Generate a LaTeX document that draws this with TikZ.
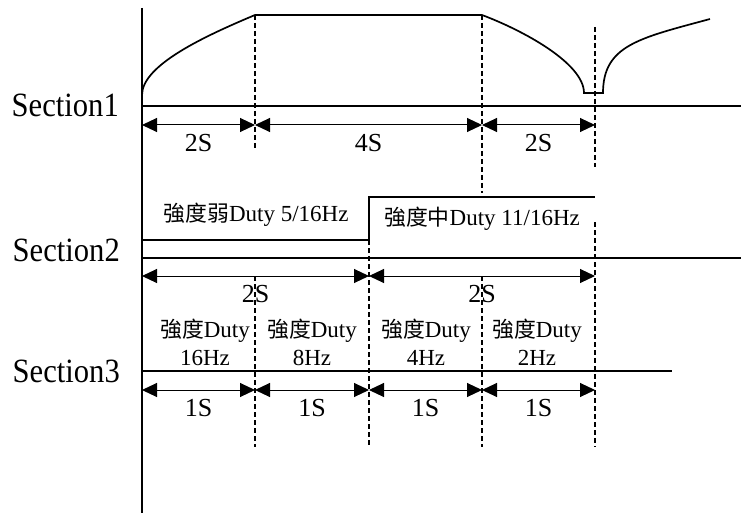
\documentclass[tikz,border=0pt]{standalone}
\usepackage{fontspec}
\setmainfont{Liberation Serif}
\newfontfamily\tallserif[FakeStretch=0.9]{Liberation Serif}
\newfontfamily\cjk[Scale=0.95]{Noto Sans CJK TC}
\newcommand{\zh}[1]{{\cjk #1}}
\usetikzlibrary{arrows.meta}

\begin{document}
\begin{tikzpicture}[x=1pt, y=-1pt,
    >={Triangle[length=15pt,width=14pt]},
    thick line/.style={line width=1.7pt},
    guide/.style={line width=1.2pt, dash pattern=on 5pt off 3pt},
    span/.style={line width=1pt, <->},
    section/.style={font=\tallserif\fontsize{34}{34}\selectfont, anchor=base east, inner sep=0pt},
    dur/.style={font=\fontsize{26}{26}\selectfont, midway, below=5pt},
    duty/.style={font=\fontsize{23}{28}\selectfont, align=center, inner sep=0pt}]

    \useasboundingbox (0,0) rectangle (741,513);

    % axis and base lines
    \draw[thick line] (142,8) -- (142,513);
    \draw[thick line] (142,106) -- (741,106);
    \draw[thick line] (142,258) -- (741,258);
    \draw[thick line] (142,371) -- (672,371);

    \node[section] (sec1) at (119,117) {Section1};
    \node[section] (sec2) at (120,261) {Section2};
    \node[section] (sec3) at (120,382) {Section3};

    % section 1
    \draw[thick line] (142,95) .. controls (142,65) and (205,36) .. (255,15)
      -- (482,15) .. controls (522,30) and (584,63) .. (584,93)
      -- (603,93) .. controls (603,45) and (640,38) .. (710,19);

    \draw[guide] (255,15) -- (255,148);
    \draw[guide] (482,15) -- (482,193);
    \draw[guide] (595,27) -- (595,167);

    \coordinate (a0) at (142,125);
    \coordinate (a1) at (255,125);
    \coordinate (a2) at (482,125);
    \coordinate (a3) at (595,125);
    \draw[span] (a0) -- (a1) node[dur] (a01) {2S};
    \draw[span] (a1) -- (a2) node[dur] (a12) {4S};
    \draw[span] (a2) -- (a3) node[dur] (a23) {2S};

    % section 2
    \draw[thick line] (142,240) -- (369,240) -- (369,197) -- (595,197);
    \node[duty] (weak)   at (256,215) {\zh{強度弱}Duty 5/16Hz};
    \node[duty] (medium) at (482,219) {\zh{強度中}Duty 11/16Hz};

    \draw[guide] (595,222) -- (595,447);
    \draw[guide] (369,240) -- (369,447);

    \coordinate (b0) at (142,276);
    \coordinate (b1) at (369,276);
    \coordinate (b2) at (595,276);
    \draw[span] (b0) -- (b1) node[dur] (b01) {2S};
    \draw[span] (b1) -- (b2) node[dur] (b12) {2S};

    % section 3
    \draw[guide] (255,276) -- (255,447);
    \draw[guide] (482,276) -- (482,447);

    \node[duty] (d16) at (205,342) {\zh{強度}Duty\\16Hz};
    \node[duty] (d8)  at (312,342) {\zh{強度}Duty\\8Hz};
    \node[duty] (d4)  at (426,342) {\zh{強度}Duty\\4Hz};
    \node[duty] (d2)  at (537,342) {\zh{強度}Duty\\2Hz};

    \coordinate (c0) at (142,390);
    \coordinate (c1) at (255,390);
    \coordinate (c2) at (369,390);
    \coordinate (c3) at (482,390);
    \coordinate (c4) at (595,390);
    \draw[span] (c0) -- (c1) node[dur] (c01) {1S};
    \draw[span] (c1) -- (c2) node[dur] (c12) {1S};
    \draw[span] (c2) -- (c3) node[dur] (c23) {1S};
    \draw[span] (c3) -- (c4) node[dur] (c34) {1S};
\end{tikzpicture}
\end{document}
